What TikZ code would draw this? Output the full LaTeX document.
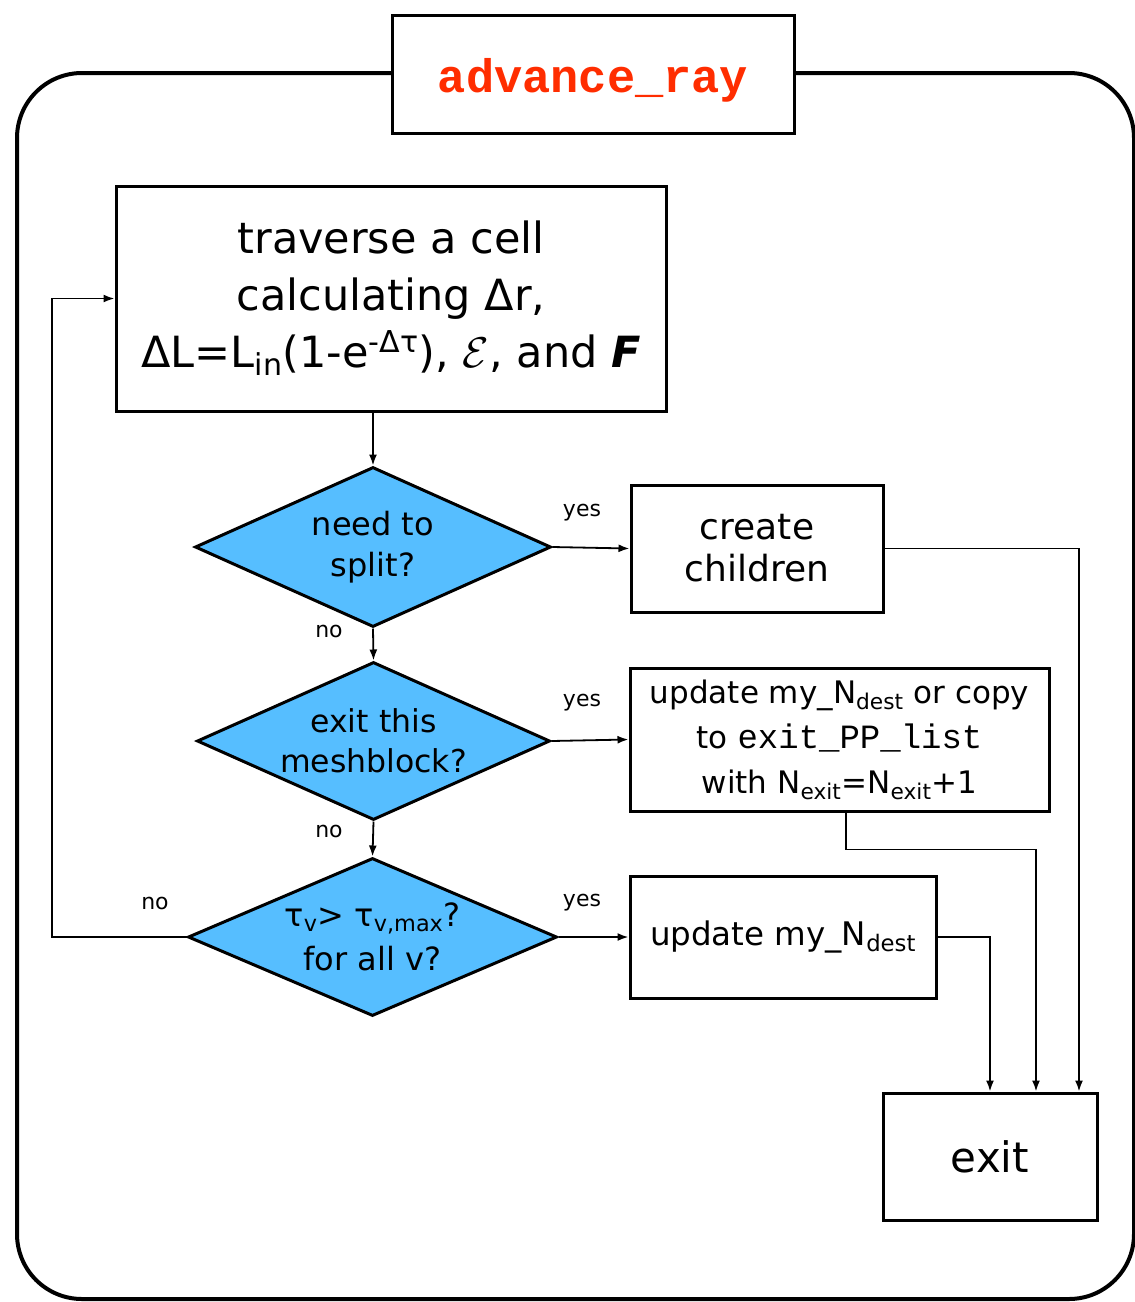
\RequirePackage{fix-cm}
\documentclass[tikz,border=0pt]{standalone}
\usepackage{fontspec}
\setmainfont{DejaVu Sans}
\setmonofont{Liberation Mono}
\usetikzlibrary{shapes.geometric,arrows.meta}
\definecolor{decblue}{RGB}{86,190,255}
\definecolor{titlered}{RGB}{255,45,0}
\tikzset{
  frame/.style={draw, line width=4pt, rounded corners=65pt},
  box/.style={draw, line width=3pt, fill=white, align=center, inner sep=0pt},
  decision/.style={diamond, draw, line width=3pt, fill=decblue, align=center,
    inner sep=0pt, shape aspect=2.2},
  conn/.style={line width=1.8pt, -{Latex[length=11pt,width=8pt]}},
  lab/.style={font=\fontsize{22}{26}\selectfont},
}
\begin{document}
\begin{tikzpicture}[x=1pt,y=-1pt]
\useasboundingbox (0,0) rectangle (1135,1302);
% outer frame and title
\draw[frame] (17,73) rectangle (1134,1299);
\node[box, minimum width=402pt, minimum height=118pt,
      font=\fontsize{47}{50}\selectfont\ttfamily\bfseries, text=titlered]
  (title) at (593,74) {\raisebox{-6pt}[\height][\depth]{advance\_ray}};

% process boxes
\node[box, minimum width=550pt, minimum height=225pt,
      font=\fontsize{43}{57}\selectfont] (cell) at (391,298.5)
  {traverse a cell\\ calculating Δr,\\ ΔL=L\textsubscript{in}(1-e\textsuperscript{-Δτ}), $\mathcal{E}$, and \textbf{\textit{F}}};
\node[box, minimum width=252pt, minimum height=127pt,
      font=\fontsize{36}{42}\selectfont] (create) at (757,548.5)
  {create\\ children};
\node[box, minimum width=419pt, minimum height=143pt,
      font=\fontsize{31}{45}\selectfont] (copy) at (839.5,739.5)
  {update my\_N\textsubscript{dest} or copy\\ to {\ttfamily\fontsize{34}{45}\selectfont exit\_PP\_list}\\ with N\textsubscript{exit}=N\textsubscript{exit}+1};
\node[box, minimum width=306pt, minimum height=122pt,
      font=\fontsize{32.5}{40}\selectfont] (dest) at (783,937)
  {update my\_N\textsubscript{dest}};
\node[box, minimum width=214pt, minimum height=127pt,
      font=\fontsize{42}{48}\selectfont] (exit) at (990,1156.5) {exit};

% decisions
\node[decision, minimum width=356pt, minimum height=160pt,
      font=\fontsize{32}{41}\selectfont] (split) at (373,547)
  {need to\\ split?};
\node[decision, minimum width=353pt, minimum height=158pt,
      font=\fontsize{31.5}{40}\selectfont] (mesh) at (373.5,741)
  {exit this\\ meshblock?};
\node[decision, minimum width=369pt, minimum height=158pt,
      font=\fontsize{32}{44}\selectfont] (tau) at (372.5,937)
  {τ\textsubscript{v}> τ\textsubscript{v,max}?\\ for all v?};

% connectors
\coordinate (loop) at (52,937);
\draw[conn] (cell.south -| split.north) -- (split.north);
\draw[conn] (split.south) -- (mesh.north);
\draw[conn] (mesh.south) -- (tau.north);
\draw[conn] (split.east) -- (create.west);
\draw[conn] (mesh.east) -- (copy.west);
\draw[conn] (tau.east) -- (dest.west);
\draw[conn] (tau.west) -- (loop) |- (cell.west);
\draw[conn] (create.east) -| ([xshift=89pt]exit.north);
\draw[conn] ([xshift=6.5pt]copy.south) -- ++(0,37) -| ([xshift=46pt]exit.north);
\draw[conn] (dest.east) -| (exit.north);

% branch labels
\node[lab] (y1) at (582,513) {yes};
\node[lab] (y2) at (582,703) {yes};
\node[lab] (y3) at (582,903) {yes};
\node[lab] (n1) at (329,631) {no};
\node[lab] (n2) at (329,831) {no};
\node[lab] (n3) at (155,903) {no};
\end{tikzpicture}
\end{document}
